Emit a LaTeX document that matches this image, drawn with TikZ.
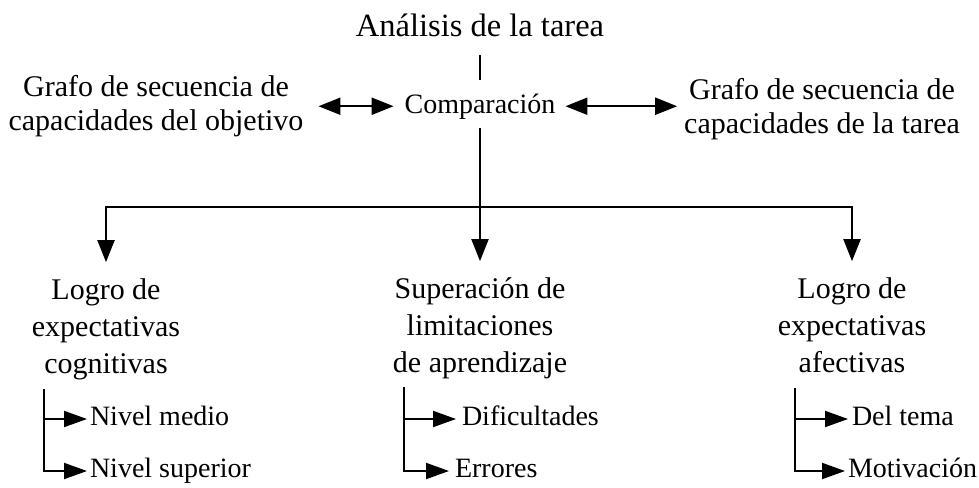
\documentclass[tikz,border=0pt]{standalone}
\usepackage{fontspec}
\setmainfont{Liberation Serif}
\usetikzlibrary{arrows.meta,calc}
\tikzset{
  txt/.style={inner sep=0pt, outer sep=0pt, align=center, anchor=base},
  titlefont/.style={txt, font=\fontsize{32.5}{39}\selectfont},
  sidefont/.style={txt, font=\fontsize{30}{34}\selectfont},
  mainfont/.style={txt, font=\fontsize{30}{37}\selectfont},
  compfont/.style={txt, font=\fontsize{28}{34}\selectfont},
  leaf/.style={inner sep=0pt, outer sep=0pt, anchor=base west, font=\fontsize{28}{34}\selectfont},
  ln/.style={line width=2pt, black},
  bigarr/.style={ln, -{Triangle[length=22pt,width=17pt]}},
  dblarr/.style={ln, {Triangle[length=22pt,width=17pt]}-{Triangle[length=22pt,width=17pt]}},
  smallarr/.style={ln, -{Triangle[length=23pt,width=16pt]}},
}
\begin{document}
\begin{tikzpicture}[x=1pt,y=-1pt]
\useasboundingbox (0,0) rectangle (979,487);

% multi-line nodes: base = baseline of the last line
\node[titlefont] (title) at (480,37) {Análisis de la tarea};
\node[compfont] (comp) at (480,113) {Comparación};
\node[sidefont] (gl) at (156,130) {Grafo de secuencia de\\capacidades del objetivo};
\node[sidefont] (gr) at (822,133) {Grafo de secuencia de\\capacidades de la tarea};

\node[mainfont] (l1) at (106,373) {Logro de\\expectativas\\cognitivas};
\node[mainfont] (l2) at (480,372) {Superación de\\limitaciones\\de aprendizaje};
\node[mainfont] (l3) at (852,372) {Logro de\\expectativas\\afectivas};

\node[leaf] (n1) at (90,425) {Nivel medio};
\node[leaf] (n2) at (90,477) {Nivel superior};
\node[leaf] (d1) at (462,425) {Dificultades};
\node[leaf] (d2) at (455,477) {Errores};
\node[leaf] (m1) at (852,425) {Del tema};
\node[leaf] (m2) at (848,477) {Motivación};

\coordinate (bar) at (480,207);
\coordinate (c1) at (44,389);
\coordinate (c2) at (404,387);
\coordinate (c3) at (795,388);

% top
\draw[ln] ([yshift=-18pt]title.base) -- ([yshift=33pt]comp.base);
\draw[dblarr, shorten <=15pt, shorten >=11pt] (comp.west -| gl.east) -- (comp.west);
\draw[dblarr, shorten <=10pt, shorten >=7pt] (comp.east) -- (comp.east -| gr.west);

% main branches
\draw[bigarr, shorten >=16pt] ([yshift=-15pt]comp.base) -- (l2.north);
\draw[bigarr, shorten >=16pt] (bar) -| (l1.north);
\draw[bigarr, shorten >=16pt] (bar) -| (l3.north);

% sub-branches
\draw[smallarr, shorten >=3pt] (c1) |- ([yshift=6pt]n1.base west);
\draw[smallarr, shorten >=3pt] (c1) |- ([yshift=6pt]n2.base west);
\draw[smallarr, shorten >=6pt] (c2) |- ([yshift=6pt]d1.base west);
\draw[smallarr, shorten >=6pt] (c2) |- ([yshift=6pt]d2.base west);
\draw[smallarr, shorten >=4pt] (c3) |- ([yshift=6pt]m1.base west);
\draw[smallarr, shorten >=3pt] (c3) |- ([yshift=6pt]m2.base west);
\end{tikzpicture}
\end{document}
